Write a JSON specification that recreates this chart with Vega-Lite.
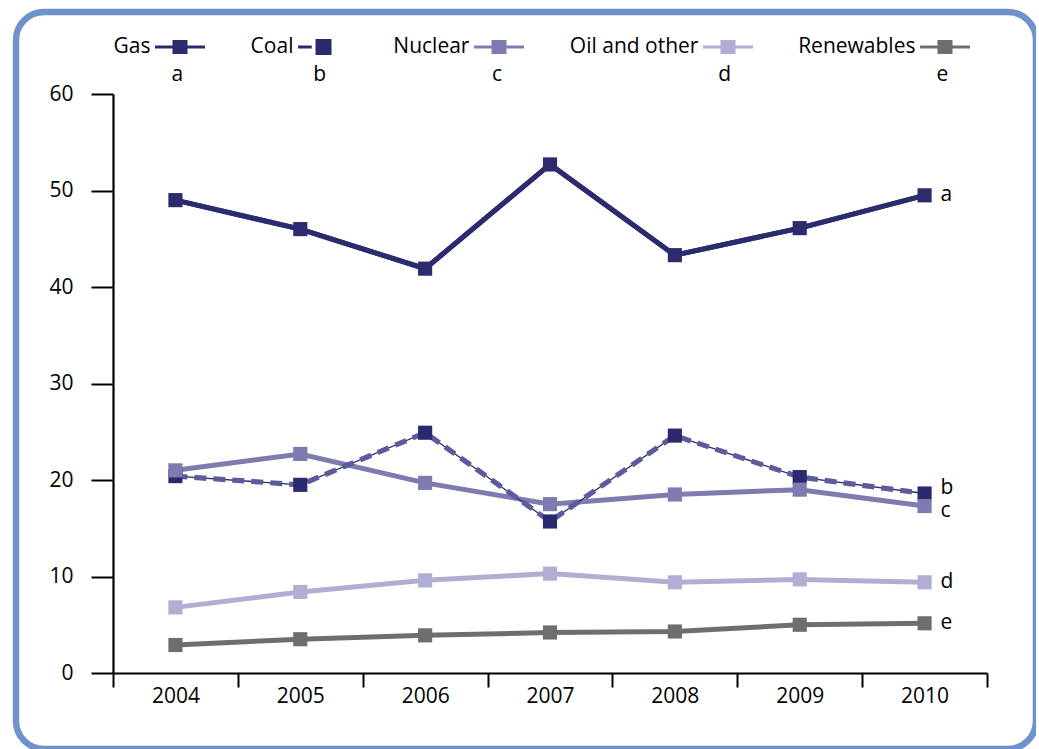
{
  "$schema": "https://vega.github.io/schema/vega-lite/v6.json",
  "width": 1020,
  "height": 737,
  "autosize": {"type": "none"},
  "padding": {"left": 16, "top": 12, "right": 0, "bottom": 0},
  "background": "white",
  "config": {
    "view": {"stroke": "#7092cc", "strokeWidth": 6.5, "cornerRadius": 28, "fill": "white"},
    "font": "Open Sans"
  },
  "datasets": {
    "energy": [
      {"year": "2004", "series": "Gas", "value": 49.0},
      {"year": "2005", "series": "Gas", "value": 46.0},
      {"year": "2006", "series": "Gas", "value": 41.9},
      {"year": "2007", "series": "Gas", "value": 52.7},
      {"year": "2008", "series": "Gas", "value": 43.3},
      {"year": "2009", "series": "Gas", "value": 46.1},
      {"year": "2010", "series": "Gas", "value": 49.5},
      {"year": "2004", "series": "Coal", "value": 20.4},
      {"year": "2005", "series": "Coal", "value": 19.5},
      {"year": "2006", "series": "Coal", "value": 24.9},
      {"year": "2007", "series": "Coal", "value": 15.7},
      {"year": "2008", "series": "Coal", "value": 24.6},
      {"year": "2009", "series": "Coal", "value": 20.3},
      {"year": "2010", "series": "Coal", "value": 18.6},
      {"year": "2004", "series": "Nuclear", "value": 21.0},
      {"year": "2005", "series": "Nuclear", "value": 22.7},
      {"year": "2006", "series": "Nuclear", "value": 19.7},
      {"year": "2007", "series": "Nuclear", "value": 17.5},
      {"year": "2008", "series": "Nuclear", "value": 18.5},
      {"year": "2009", "series": "Nuclear", "value": 19.0},
      {"year": "2010", "series": "Nuclear", "value": 17.3},
      {"year": "2004", "series": "Oil and other", "value": 6.8},
      {"year": "2005", "series": "Oil and other", "value": 8.4},
      {"year": "2006", "series": "Oil and other", "value": 9.6},
      {"year": "2007", "series": "Oil and other", "value": 10.3},
      {"year": "2008", "series": "Oil and other", "value": 9.4},
      {"year": "2009", "series": "Oil and other", "value": 9.7},
      {"year": "2010", "series": "Oil and other", "value": 9.4},
      {"year": "2004", "series": "Renewables", "value": 2.9},
      {"year": "2005", "series": "Renewables", "value": 3.5},
      {"year": "2006", "series": "Renewables", "value": 3.9},
      {"year": "2007", "series": "Renewables", "value": 4.2},
      {"year": "2008", "series": "Renewables", "value": 4.3},
      {"year": "2009", "series": "Renewables", "value": 5.0},
      {"year": "2010", "series": "Renewables", "value": 5.15}
    ],
    "letters": [
      {"series": "Gas", "letter": "a"},
      {"series": "Coal", "letter": "b"},
      {"series": "Nuclear", "letter": "c"},
      {"series": "Oil and other", "letter": "d"},
      {"series": "Renewables", "letter": "e"}
    ]
  },
  "data": {"name": "energy"},
  "encoding": {
    "x": {
      "field": "year",
      "type": "ordinal",
      "scale": {"type": "band", "range": [97, 971], "paddingInner": 0, "paddingOuter": 0},
      "axis": {
        "orient": "bottom",
        "offset": -76,
        "title": null,
        "grid": false,
        "labelAngle": 0,
        "tickBand": "extent",
        "domainColor": "black",
        "domainWidth": 2.2,
        "tickColor": "black",
        "tickWidth": 2,
        "tickSize": 14,
        "labelFontSize": 21,
        "labelColor": "black",
        "labelPadding": -2,
        "labelFont": "Open Sans"
      }
    },
    "y": {
      "field": "value",
      "type": "quantitative",
      "scale": {"domain": [0, 60], "range": [661, 82], "nice": false},
      "axis": {
        "orient": "left",
        "offset": -97,
        "title": null,
        "grid": false,
        "values": [0, 10, 20, 30, 40, 50, 60],
        "domainColor": "black",
        "domainWidth": 2.2,
        "tickColor": "black",
        "tickWidth": 2,
        "tickSize": 22,
        "labelFontSize": 21,
        "labelColor": "black",
        "labelPadding": 18,
        "labelFont": "Open Sans"
      }
    }
  },
  "layer": [
    {
      "transform": [{"filter": "datum.series != 'Coal'"}],
      "mark": {"type": "line", "strokeWidth": 5},
      "encoding": {
        "stroke": {
          "field": "series",
          "type": "nominal",
          "scale": {
            "domain": ["Gas", "Nuclear", "Oil and other", "Renewables"],
            "range": ["#2b2b6e", "#7e7bb1", "#b0aed3", "#6e6e6e"]
          },
          "legend": null
        }
      }
    },
    {
      "transform": [{"filter": "datum.series == 'Coal'"}],
      "mark": {"type": "line", "strokeWidth": 1.3, "color": "#2b2a6e"},
      "encoding": {}
    },
    {
      "transform": [{"filter": "datum.series == 'Coal'"}],
      "mark": {"type": "line", "strokeWidth": 5.2, "color": "#5c5b9b", "strokeDash": [12, 7]},
      "encoding": {}
    },
    {
      "transform": [{"filter": "datum.series == 'Gas'"}],
      "mark": {"type": "line", "strokeWidth": 5, "color": "#2b2b6e"},
      "encoding": {}
    },
    {
      "mark": {"type": "point", "shape": "square", "filled": true, "opacity": 1, "size": 200},
      "encoding": {
        "color": {
          "field": "series",
          "type": "nominal",
          "scale": {
            "domain": ["Gas", "Coal", "Nuclear", "Oil and other", "Renewables"],
            "range": ["#2b2b6e", "#2b2a6e", "#7e7bb1", "#b0aed3", "#6e6e6e"]
          },
          "legend": {
            "orient": "none",
            "legendX": 139,
            "legendY": 10,
            "direction": "horizontal",
            "title": null,
            "symbolSize": 2500,
            "symbolType": "M-1,-0.06H1V0.06H-1Z M-0.3,-0.28H0.3V0.28H-0.3Z",
            "symbolStrokeWidth": 0,
            "symbolOpacity": 1,
            "labelFontSize": 21,
            "labelColor": "black",
            "labelFont": "Open Sans",
            "labelAlign": "right",
            "labelOffset": 0,
            "labelLimit": 400,
            "columnPadding": 45,
            "labelExpr": "[datum.label + '\u00a0\u00a0\u00a0\u00a0\u00a0\u00a0\u00a0\u00a0\u00a0\u00a0\u200b', ['a','b','c','d','e'][indexof(['Gas','Coal','Nuclear','Oil and other','Renewables'], datum.label)] + '\u00a0\u00a0\u00a0\u00a0\u200b']",
            "encode": {
              "symbols": {"update": {"shape": {"signal": "datum.value == 'Coal' ? 'M-1,-0.06H-0.45V0.06H-1Z M-0.3,-0.32H0.34V0.32H-0.3Z' : 'M-1,-0.06H1V0.06H-1Z M-0.3,-0.28H0.3V0.28H-0.3Z'"}}},
              "labels": {"update": {"lineHeight": {"value": 28}}}
            }
          }
        }
      }
    },
    {
      "transform": [
        {"filter": "datum.year == '2010'"},
        {"lookup": "series", "from": {"data": {"name": "letters"}, "key": "series", "fields": ["letter"]}}
      ],
      "layer": [
        {
          "transform": [{"filter": "datum.series != 'Coal' && datum.series != 'Nuclear'"}],
          "mark": {"type": "text", "align": "left", "dx": 16, "fontSize": 21, "font": "Open Sans", "color": "black"},
          "encoding": {"text": {"field": "letter"}}
        },
        {
          "transform": [{"filter": "datum.series == 'Coal'"}],
          "mark": {"type": "text", "align": "left", "dx": 16, "dy": -6, "fontSize": 21, "font": "Open Sans", "color": "black"},
          "encoding": {"text": {"field": "letter"}}
        },
        {
          "transform": [{"filter": "datum.series == 'Nuclear'"}],
          "mark": {"type": "text", "align": "left", "dx": 16, "dy": 5, "fontSize": 21, "font": "Open Sans", "color": "black"},
          "encoding": {"text": {"field": "letter"}}
        }
      ]
    }
  ]
}
